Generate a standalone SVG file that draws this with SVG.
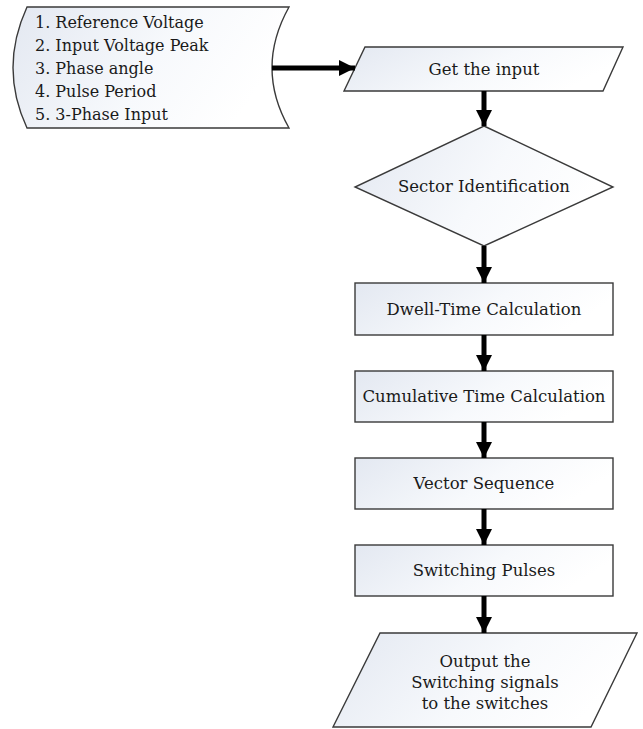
<svg xmlns="http://www.w3.org/2000/svg" width="643" height="729" viewBox="0 0 643 729">
<defs>
<linearGradient id="fillg" x1="0" y1="0" x2="1" y2="0.3">
<stop offset="0" stop-color="#e3e8f1"/>
<stop offset="0.6" stop-color="#f7f9fc"/>
<stop offset="1" stop-color="#ffffff"/>
</linearGradient>
<marker id="ah" markerUnits="userSpaceOnUse" markerWidth="16" markerHeight="16" refX="16" refY="8" orient="auto">
<path d="M0,0 L16,8 L0,16 Z" fill="#000"/>
</marker>
</defs>
<style>
.shape{fill:url(#fillg);stroke:#3a3a3a;stroke-width:1.4}
.t{font-family:"DejaVu Serif","Liberation Serif",serif;font-size:16.5px;fill:#1a1a1a}
.c{text-anchor:middle}
.l{font-size:16px}
.conn{stroke:#000;stroke-width:5;fill:none;marker-end:url(#ah)}
</style>
<rect width="643" height="729" fill="#ffffff"/>
<g id="inputs">
<path class="shape" d="M27,7 L289,7 Q255,68 289,128 L27,128 Q-1,68 27,7 Z"/>
<text class="t l" x="35" y="28">1. Reference Voltage</text>
<text class="t l" x="35" y="51">2. Input Voltage Peak</text>
<text class="t l" x="35" y="74">3. Phase angle</text>
<text class="t l" x="35" y="97">4. Pulse Period</text>
<text class="t l" x="35" y="120">5. 3-Phase Input</text>
</g>
<g id="get-input">
<path class="shape" d="M365,47 L623,47 L603,91 L344,91 Z"/>
<text class="t c" x="484" y="75">Get the input</text>
</g>
<g id="sector">
<path class="shape" d="M484,126 L613,187 L484,246 L355,187 Z"/>
<text class="t c" x="484" y="192">Sector Identification</text>
</g>
<g id="dwell">
<rect class="shape" x="355" y="283" width="258" height="52"/>
<text class="t c" x="484" y="315">Dwell-Time Calculation</text>
</g>
<g id="cumulative">
<rect class="shape" x="355" y="371" width="258" height="51"/>
<text class="t c" x="484" y="402">Cumulative Time Calculation</text>
</g>
<g id="vector">
<rect class="shape" x="355" y="458" width="258" height="51"/>
<text class="t c" x="484" y="489">Vector Sequence</text>
</g>
<g id="pulses">
<rect class="shape" x="355" y="545" width="258" height="51"/>
<text class="t c" x="484" y="576">Switching Pulses</text>
</g>
<g id="output">
<path class="shape" d="M380,633 L637,633 L591,727 L333,727 Z"/>
<text class="t c" x="485" y="667">Output the</text>
<text class="t c" x="485" y="688">Switching signals</text>
<text class="t c" x="485" y="709">to the switches</text>
</g>
<g id="connectors">
<line class="conn" x1="272" y1="68" x2="355" y2="68"/>
<line class="conn" x1="484" y1="91" x2="484" y2="126"/>
<line class="conn" x1="484" y1="246" x2="484" y2="283"/>
<line class="conn" x1="484" y1="335" x2="484" y2="371"/>
<line class="conn" x1="484" y1="422" x2="484" y2="458"/>
<line class="conn" x1="484" y1="509" x2="484" y2="545"/>
<line class="conn" x1="484" y1="596" x2="484" y2="633"/>
</g>
</svg>
